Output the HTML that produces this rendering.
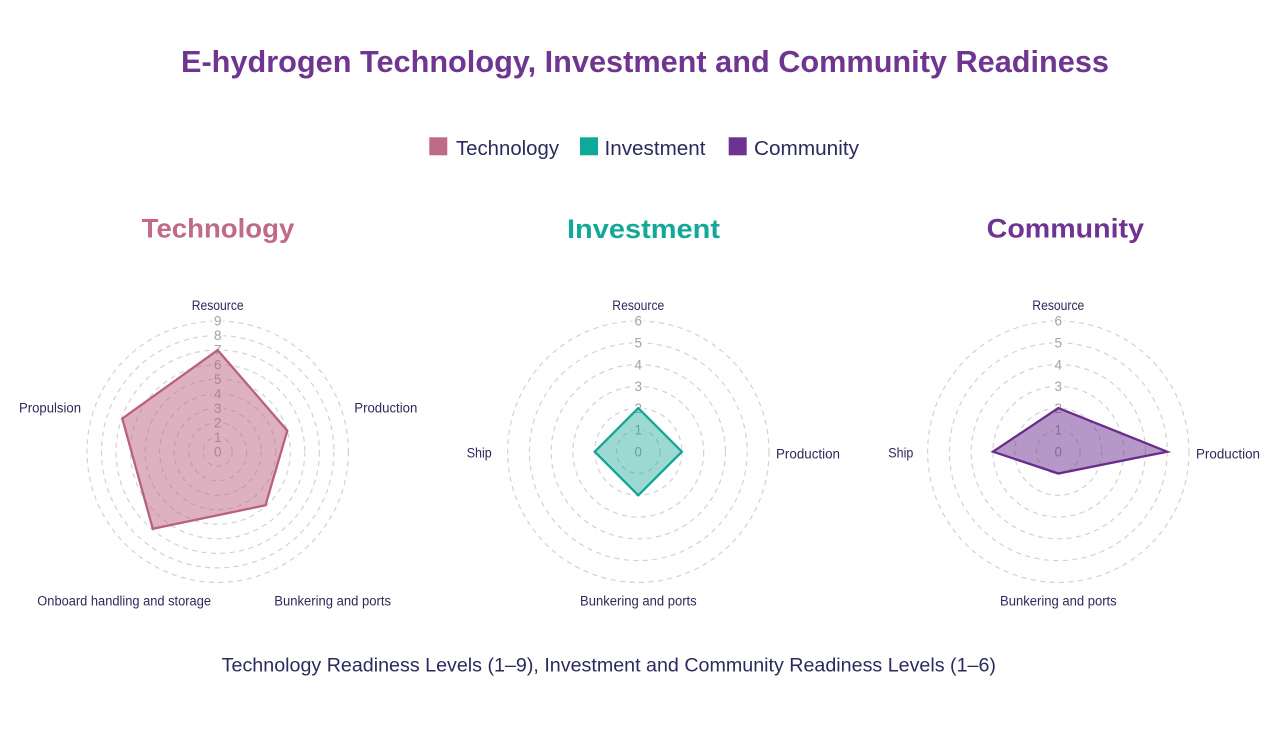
<!DOCTYPE html>
<html>
<head>
<meta charset="utf-8">
<style>
  html, body { margin:0; padding:0; background:#ffffff; }
  body { width:1277px; height:733px; overflow:hidden; }
  svg { display:block; font-family:"Liberation Sans", sans-serif; }
  .ring { fill:none; stroke:#d2d2d2; stroke-width:1.2; stroke-dasharray:5 4.5; }
  .bd { fill:#ffffff; fill-opacity:0.8; }
  .tk { fill:#a3a3a3; font-size:13.5px; text-anchor:middle; }
  .pl { fill:#2b2a5c; font-size:13.5px; }
</style>
</head>
<body>
<svg width="1277" height="733" viewBox="0 0 1277 733" xmlns="http://www.w3.org/2000/svg">
  <!-- Title -->
  <text x="181" y="72" font-size="31" font-weight="bold" fill="#6f3590" textLength="928" lengthAdjust="spacingAndGlyphs">E-hydrogen Technology, Investment and Community Readiness</text>

  <!-- Legend -->
  <rect x="429.3" y="137.3" width="18" height="18" fill="#bd6b87"/>
  <text x="456" y="155" font-size="20" fill="#2b2a5c" textLength="103" lengthAdjust="spacingAndGlyphs">Technology</text>
  <rect x="580" y="137.3" width="18" height="18" fill="#0fa99a"/>
  <text x="604.5" y="155" font-size="20" fill="#2b2a5c" textLength="101" lengthAdjust="spacingAndGlyphs">Investment</text>
  <rect x="728.7" y="137.3" width="18" height="18" fill="#6d348f"/>
  <text x="754" y="155" font-size="20" fill="#2b2a5c" textLength="105" lengthAdjust="spacingAndGlyphs">Community</text>

  <!-- Subtitles -->
  <text x="141.7" y="237.3" font-size="27" font-weight="bold" fill="#c06a88" textLength="152.6" lengthAdjust="spacingAndGlyphs">Technology</text>
  <text x="567" y="238" font-size="27" font-weight="bold" fill="#14a898" textLength="153" lengthAdjust="spacingAndGlyphs">Investment</text>
  <text x="986.7" y="237.3" font-size="27" font-weight="bold" fill="#6f3391" textLength="157.3" lengthAdjust="spacingAndGlyphs">Community</text>

  <!-- ============ Chart 1: Technology ============ -->
  <g>
    <circle class="ring" cx="217.7" cy="451.7" r="14.52"/>
    <circle class="ring" cx="217.7" cy="451.7" r="29.04"/>
    <circle class="ring" cx="217.7" cy="451.7" r="43.57"/>
    <circle class="ring" cx="217.7" cy="451.7" r="58.09"/>
    <circle class="ring" cx="217.7" cy="451.7" r="72.61"/>
    <circle class="ring" cx="217.7" cy="451.7" r="87.13"/>
    <circle class="ring" cx="217.7" cy="451.7" r="101.66"/>
    <circle class="ring" cx="217.7" cy="451.7" r="116.18"/>
    <circle class="ring" cx="217.7" cy="451.7" r="130.7"/>

    <rect class="bd" x="211.7" y="314" width="12" height="144.7"/>

    <text class="tk" x="217.7" y="456.4">0</text>
    <text class="tk" x="217.7" y="441.9">1</text>
    <text class="tk" x="217.7" y="427.4">2</text>
    <text class="tk" x="217.7" y="412.8">3</text>
    <text class="tk" x="217.7" y="398.3">4</text>
    <text class="tk" x="217.7" y="383.8">5</text>
    <text class="tk" x="217.7" y="369.3">6</text>
    <text class="tk" x="217.7" y="354.7">7</text>
    <text class="tk" x="217.7" y="340.2">8</text>
    <text class="tk" x="217.7" y="325.7">9</text>

    <polygon points="217.7,350.1 287.3,430.7 265.5,505.3 152.8,528.8 122.3,418.6"
             fill="rgb(189,100,130)" fill-opacity="0.5" stroke="#b9607f" stroke-width="2.3" stroke-linejoin="miter"/>

    <text class="pl" x="191.7" y="310" textLength="52" lengthAdjust="spacingAndGlyphs">Resource</text>
    <text class="pl" x="354.3" y="412.3" textLength="63" lengthAdjust="spacingAndGlyphs">Production</text>
    <text class="pl" x="274.3" y="605.7" textLength="116.7" lengthAdjust="spacingAndGlyphs">Bunkering and ports</text>
    <text class="pl" x="37.3" y="605.7" textLength="173.7" lengthAdjust="spacingAndGlyphs">Onboard handling and storage</text>
    <text class="pl" x="19" y="412.3" textLength="62" lengthAdjust="spacingAndGlyphs">Propulsion</text>
  </g>

  <!-- ============ Chart 2: Investment ============ -->
  <g>
    <circle class="ring" cx="638.3" cy="451.7" r="21.78"/>
    <circle class="ring" cx="638.3" cy="451.7" r="43.57"/>
    <circle class="ring" cx="638.3" cy="451.7" r="65.35"/>
    <circle class="ring" cx="638.3" cy="451.7" r="87.13"/>
    <circle class="ring" cx="638.3" cy="451.7" r="108.92"/>
    <circle class="ring" cx="638.3" cy="451.7" r="130.7"/>

    <rect class="bd" x="632.3" y="444.7" width="12" height="14"/>
    <rect class="bd" x="632.3" y="422.9" width="12" height="14"/>
    <rect class="bd" x="632.3" y="401.1" width="12" height="14"/>
    <rect class="bd" x="632.3" y="379.4" width="12" height="14"/>
    <rect class="bd" x="632.3" y="357.6" width="12" height="14"/>
    <rect class="bd" x="632.3" y="335.8" width="12" height="14"/>
    <rect class="bd" x="632.3" y="314" width="12" height="14"/>

    <text class="tk" x="638.3" y="456.4">0</text>
    <text class="tk" x="638.3" y="434.6">1</text>
    <text class="tk" x="638.3" y="412.8">2</text>
    <text class="tk" x="638.3" y="391.1">3</text>
    <text class="tk" x="638.3" y="369.3">4</text>
    <text class="tk" x="638.3" y="347.5">5</text>
    <text class="tk" x="638.3" y="325.7">6</text>

    <polygon points="638.3,408.1 681.9,451.7 638.3,495.3 594.7,451.7"
             fill="rgb(20,165,150)" fill-opacity="0.42" stroke="#13a596" stroke-width="2.3" stroke-linejoin="miter"/>

    <text class="pl" x="612.3" y="310" textLength="52" lengthAdjust="spacingAndGlyphs">Resource</text>
    <text class="pl" x="776" y="458.3" textLength="64" lengthAdjust="spacingAndGlyphs">Production</text>
    <text class="pl" x="580" y="605.7" textLength="116.7" lengthAdjust="spacingAndGlyphs">Bunkering and ports</text>
    <text class="pl" x="466.7" y="457.3" textLength="25" lengthAdjust="spacingAndGlyphs">Ship</text>
  </g>

  <!-- ============ Chart 3: Community ============ -->
  <g>
    <circle class="ring" cx="1058.3" cy="451.7" r="21.78"/>
    <circle class="ring" cx="1058.3" cy="451.7" r="43.57"/>
    <circle class="ring" cx="1058.3" cy="451.7" r="65.35"/>
    <circle class="ring" cx="1058.3" cy="451.7" r="87.13"/>
    <circle class="ring" cx="1058.3" cy="451.7" r="108.92"/>
    <circle class="ring" cx="1058.3" cy="451.7" r="130.7"/>

    <rect class="bd" x="1052.3" y="444.7" width="12" height="14"/>
    <rect class="bd" x="1052.3" y="422.9" width="12" height="14"/>
    <rect class="bd" x="1052.3" y="401.1" width="12" height="14"/>
    <rect class="bd" x="1052.3" y="379.4" width="12" height="14"/>
    <rect class="bd" x="1052.3" y="357.6" width="12" height="14"/>
    <rect class="bd" x="1052.3" y="335.8" width="12" height="14"/>
    <rect class="bd" x="1052.3" y="314" width="12" height="14"/>

    <text class="tk" x="1058.3" y="456.4">0</text>
    <text class="tk" x="1058.3" y="434.6">1</text>
    <text class="tk" x="1058.3" y="412.8">2</text>
    <text class="tk" x="1058.3" y="391.1">3</text>
    <text class="tk" x="1058.3" y="369.3">4</text>
    <text class="tk" x="1058.3" y="347.5">5</text>
    <text class="tk" x="1058.3" y="325.7">6</text>

    <polygon points="1058.3,408.1 1167.2,451.7 1058.3,473.5 993,451.7"
             fill="rgb(110,50,145)" fill-opacity="0.5" stroke="#6a2c8c" stroke-width="2.3" stroke-linejoin="miter"/>

    <text class="pl" x="1032.3" y="310" textLength="52" lengthAdjust="spacingAndGlyphs">Resource</text>
    <text class="pl" x="1196" y="458.3" textLength="64" lengthAdjust="spacingAndGlyphs">Production</text>
    <text class="pl" x="1000" y="605.7" textLength="116.7" lengthAdjust="spacingAndGlyphs">Bunkering and ports</text>
    <text class="pl" x="888.3" y="457.3" textLength="25" lengthAdjust="spacingAndGlyphs">Ship</text>
  </g>

  <!-- Caption -->
  <text x="221.7" y="671.7" font-size="19" fill="#2b2a5c" textLength="774.3" lengthAdjust="spacingAndGlyphs">Technology Readiness Levels (1–9), Investment and Community Readiness Levels (1–6)</text>
</svg>
</body>
</html>
